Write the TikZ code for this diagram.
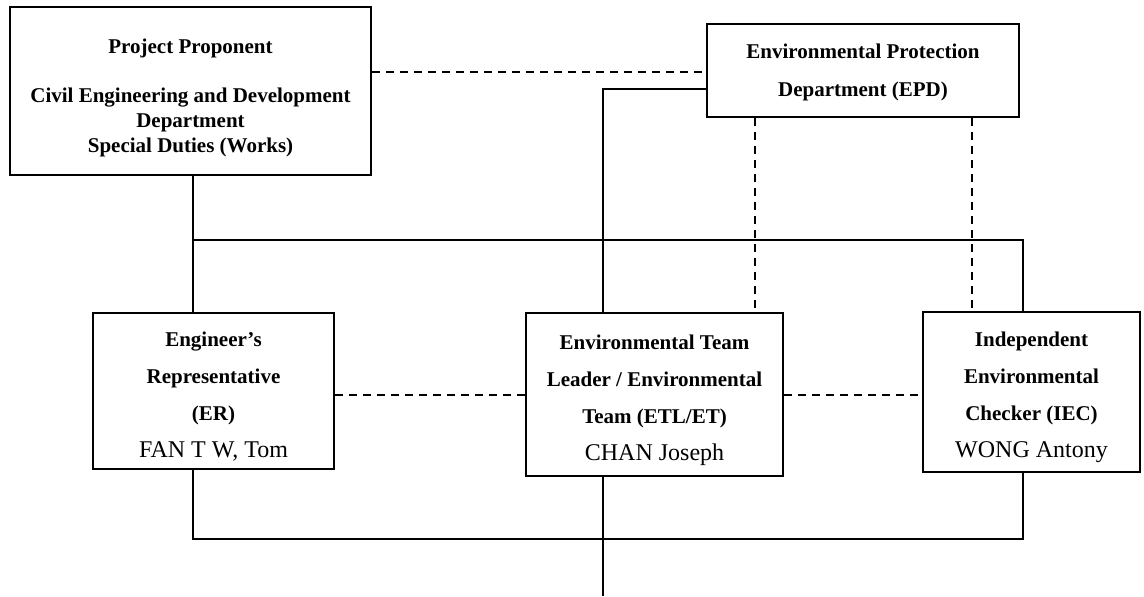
\documentclass[tikz,border=0pt]{standalone}
\usepackage{fontspec}
\setmainfont{Liberation Serif}
\usetikzlibrary{positioning}
\usetikzlibrary{calc}
\definecolor{figFondo}{RGB}{255,255,255}
\definecolor{figBorde}{RGB}{0,0,0}
\tikzset{
  caja/.style={
    rectangle, draw=figBorde, line width=1pt, fill=figFondo,
    align=center, inner sep=0pt,
    font=\bfseries\fontsize{10.5}{18.5}\selectfont
  },
  enlace/.style={line width=0.75pt, draw=figBorde},
  enlaced/.style={line width=0.75pt, draw=figBorde, dash pattern=on 4pt off 3pt}
}

\begin{document}
\begin{tikzpicture}[x=0.5pt, y=-0.5pt]
  \useasboundingbox (0,0) rectangle (1144,596);
  \node[caja, minimum width=180.5pt, minimum height=84pt,
        font=\bfseries\fontsize{10.5}{12.5}\selectfont] (pp) at (190.5,91) {%
    \rule{0pt}{14pt}Project Proponent\\[12pt]Civil Engineering and Development\\Department\\Special Duties (Works)};
  \node[caja, minimum width=156pt, minimum height=46.5pt,
        font=\bfseries\fontsize{10.5}{19}\selectfont] (epd) at (863,70.5) {%
    \rule{0pt}{9pt}Environmental Protection\\Department (EPD)};
  \node[caja, minimum width=120.5pt, minimum height=78pt] (er) at (213.5,391) {%
    \rule{0pt}{13pt}Engineer's\\Representative\\(ER)\\{\mdseries\fontsize{12}{18.5}\selectfont FAN T W, Tom}};
  \node[caja, minimum width=128.5pt, minimum height=81.5pt] (etl) at (654.5,394.5) {%
    \rule{0pt}{13pt}Environmental Team\\Leader / Environmental\\Team (ETL/ET)\\{\mdseries\fontsize{12}{18.5}\selectfont CHAN Joseph}};
  \node[caja, minimum width=108.5pt, minimum height=80pt] (iec) at (1031.5,392) {%
    \rule{0pt}{13pt}Independent\\Environmental\\Checker (IEC)\\{\mdseries\fontsize{12}{18.5}\selectfont WONG Antony}};
  \coordinate (barraA) at (193,240);
  \coordinate (barraB) at (1023,240);
  \coordinate (barraC) at (193,539);
  \coordinate (barraD) at (1023,539);
  \coordinate (codo) at (603,89);
  \coordinate (fin) at (603,596);
  \coordinate (rayaA) at (540,72);
  \coordinate (rayaB) at (430,395);
  \coordinate (bajaA) at (755,200);
  \coordinate (bajaB) at (972,200);
  \draw[enlace] (pp.south -| barraA) -- (er.north -| barraA);
  \draw[enlace] (barraA) -- (barraB) -- (iec.north -| barraB);
  \draw[enlace] (epd.west |- codo) -- (codo) -- (etl.north -| codo);
  \draw[enlaced] (pp.east |- rayaA) -- (epd.west |- rayaA);
  \draw[enlaced] (epd.south -| bajaA) -- (etl.north -| bajaA);
  \draw[enlaced] (epd.south -| bajaB) -- (iec.north -| bajaB);
  \draw[enlaced] (er.east |- rayaB) -- (etl.west |- rayaB);
  \draw[enlaced] (etl.east |- rayaB) -- (iec.west |- rayaB);
  \draw[enlace] (er.south -| barraC) -- (barraC) -- (barraD) -- (iec.south -| barraD);
  \draw[enlace] (etl.south -| fin) -- (fin);
\end{tikzpicture}
\end{document}
